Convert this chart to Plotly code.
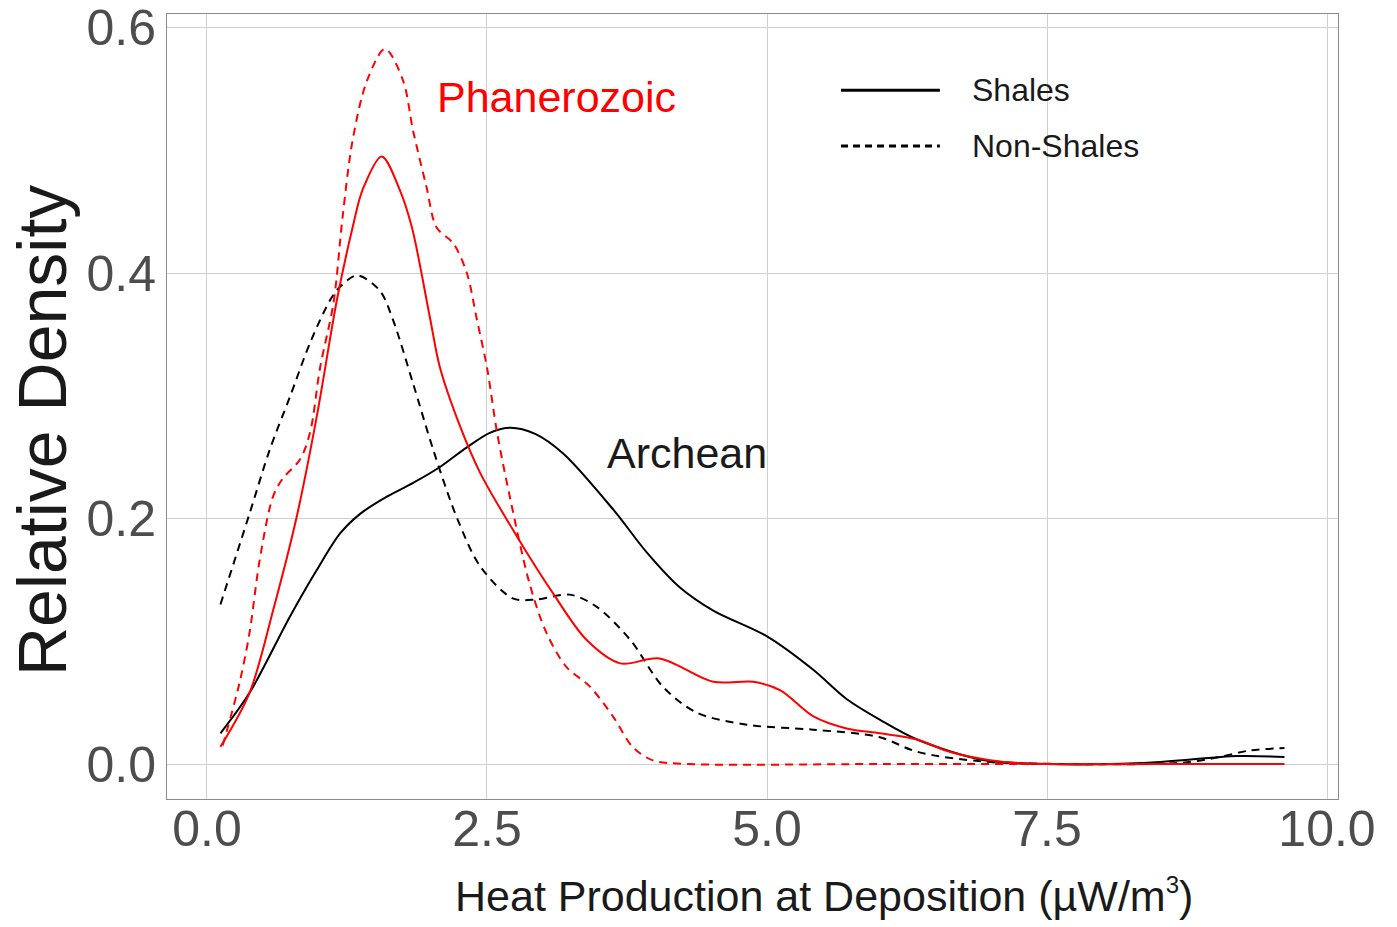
import plotly.graph_objects as go

# Archean shales (black solid)
arch_sh_x = [0.12, 0.38, 0.74, 0.98, 1.19, 1.37, 1.61, 1.84, 2.08, 2.32, 2.53, 2.71, 2.93, 3.18, 3.63, 3.93, 4.22, 4.52, 5.0, 5.41, 5.71, 6.01, 6.34, 6.93, 7.5, 8.4, 9.2, 9.62]
arch_sh_y = [0.025, 0.058, 0.120, 0.158, 0.188, 0.204, 0.218, 0.229, 0.242, 0.258, 0.270, 0.274, 0.269, 0.253, 0.207, 0.172, 0.144, 0.125, 0.104, 0.077, 0.053, 0.036, 0.020, 0.0033, 0.0, 0.001, 0.0065, 0.0057]

# Archean non-shales (black dashed)
arch_ns_x = [0.12, 0.38, 0.56, 0.74, 0.92, 1.10, 1.19, 1.34, 1.54, 1.66, 1.84, 2.02, 2.23, 2.44, 2.73, 2.94, 3.24, 3.48, 3.78, 4.07, 4.37, 4.82, 5.41, 6.0, 6.34, 6.93, 7.7, 8.7, 9.0, 9.31, 9.62]
arch_ns_y = [0.130, 0.204, 0.256, 0.299, 0.343, 0.378, 0.389, 0.398, 0.386, 0.362, 0.310, 0.256, 0.201, 0.161, 0.135, 0.134, 0.138, 0.128, 0.101, 0.063, 0.042, 0.032, 0.028, 0.022, 0.010, 0.002, 0.0, 0.001, 0.005, 0.011, 0.013]

# Phanerozoic shales (red solid)
phan_sh_x = [0.12, 0.38, 0.59, 0.80, 0.98, 1.16, 1.30, 1.39, 1.56, 1.72, 1.83, 1.99, 2.08, 2.26, 2.44, 2.77, 3.09, 3.39, 3.69, 4.04, 4.52, 4.88, 5.12, 5.41, 5.71, 6.01, 6.34, 6.63, 7.08, 7.5, 8.5, 9.62]
phan_sh_y = [0.014, 0.058, 0.125, 0.201, 0.283, 0.378, 0.437, 0.468, 0.495, 0.468, 0.437, 0.364, 0.323, 0.275, 0.237, 0.185, 0.139, 0.101, 0.082, 0.086, 0.067, 0.067, 0.060, 0.039, 0.029, 0.025, 0.020, 0.010, 0.002, 0.0, 0.0, 0.0]

# Phanerozoic non-shales (red dashed)
phan_ns_x = [0.14, 0.29, 0.38, 0.47, 0.59, 0.68, 0.83, 0.92, 1.01, 1.13, 1.21, 1.30, 1.43, 1.59, 1.75, 1.84, 1.96, 2.05, 2.20, 2.32, 2.41, 2.50, 2.59, 2.71, 2.88, 3.03, 3.21, 3.42, 3.63, 3.80, 3.98, 4.3, 6.0, 8.0, 9.62]
phan_ns_y = [0.015, 0.066, 0.107, 0.166, 0.218, 0.233, 0.248, 0.270, 0.323, 0.376, 0.445, 0.508, 0.557, 0.5825, 0.557, 0.516, 0.470, 0.437, 0.424, 0.400, 0.362, 0.323, 0.270, 0.215, 0.147, 0.107, 0.079, 0.063, 0.038, 0.014, 0.003, 0.0, 0.0, 0.0, 0.0]

x_ticks = [0.0, 2.5, 5.0, 7.5, 10.0]
x_tick_labels = ["0.0", "2.5", "5.0", "7.5", "10.0"]
y_ticks = [0.0, 0.2, 0.4, 0.6]
y_tick_labels = ["0.0", "0.2", "0.4", "0.6"]

FONT = "Liberation Sans, Arial, sans-serif"
DASH = "8px,6px"
SM = 0.9

fig = go.Figure()
fig.add_trace(go.Scatter(x=arch_sh_x, y=arch_sh_y, mode="lines", name="Archean Shales",
                         line=dict(color="black", width=2, shape="spline", smoothing=SM), showlegend=False))
fig.add_trace(go.Scatter(x=arch_ns_x, y=arch_ns_y, mode="lines", name="Archean Non-Shales",
                         line=dict(color="black", width=2, dash=DASH, shape="spline", smoothing=SM), showlegend=False))
fig.add_trace(go.Scatter(x=phan_sh_x, y=phan_sh_y, mode="lines", name="Phanerozoic Shales",
                         line=dict(color="#ff0000", width=2, shape="spline", smoothing=SM), showlegend=False))
fig.add_trace(go.Scatter(x=phan_ns_x, y=phan_ns_y, mode="lines", name="Phanerozoic Non-Shales",
                         line=dict(color="#ff0000", width=2, dash=DASH, shape="spline", smoothing=SM), showlegend=False))

# Manual legend (paper coordinates)
fig.add_shape(type="line", xref="paper", yref="paper", x0=0.5756, x1=0.660, y0=0.903, y1=0.903,
              line=dict(color="black", width=3))
fig.add_shape(type="line", xref="paper", yref="paper", x0=0.5756, x1=0.660, y0=0.832, y1=0.832,
              line=dict(color="black", width=3, dash="7px,5px"))
fig.add_annotation(xref="paper", yref="paper", x=0.686, y=0.903, text="Shales", showarrow=False,
                   xanchor="left", yanchor="middle", font=dict(family=FONT, size=32, color="#1a1a1a"))
fig.add_annotation(xref="paper", yref="paper", x=0.686, y=0.832, text="Non-Shales", showarrow=False,
                   xanchor="left", yanchor="middle", font=dict(family=FONT, size=32, color="#1a1a1a"))

fig.add_annotation(x=3.12, y=0.543, text="Phanerozoic", showarrow=False, xanchor="center", yanchor="middle",
                   font=dict(family=FONT, size=43, color="#ff0000"))
fig.add_annotation(x=4.29, y=0.253, text="Archean", showarrow=False, xanchor="center", yanchor="middle",
                   font=dict(family=FONT, size=43, color="#1a1a1a"))

# Axis titles as annotations (positioned to match reference)
fig.add_annotation(xref="paper", yref="paper", x=(824 - 167) / 1171, y=(799 - 895) / 785,
                   text="Heat Production at Deposition (µW/m<sup><span style='font-size:24px'>3</span></sup>)",
                   showarrow=False,
                   xanchor="center", yanchor="middle", font=dict(family=FONT, size=43, color="#1a1a1a"))
fig.add_annotation(xref="paper", yref="paper", x=(42 - 167) / 1171, y=(799 - 431) / 785,
                   text="Relative Density", showarrow=False, textangle=-90,
                   xanchor="center", yanchor="middle", font=dict(family=FONT, size=68, color="#1a1a1a"))

fig.update_layout(
    width=1397, height=927,
    margin=dict(l=167, r=59, t=14, b=128, autoexpand=False),
    plot_bgcolor="white", paper_bgcolor="white",
    font=dict(family=FONT),
)
fig.update_xaxes(range=[-0.357, 10.098], tickvals=x_ticks, ticktext=x_tick_labels,
                 tickfont=dict(size=50, color="#4d4d4d"), automargin=False, ticklabelstandoff=-14,
                 showgrid=True, gridcolor="#d0d0d0", gridwidth=1, zeroline=False,
                 showline=True, linecolor="#8c8c8c", linewidth=1, mirror=True, ticks="")
fig.update_yaxes(range=[-0.0285, 0.611], tickvals=y_ticks, ticktext=y_tick_labels,
                 tickfont=dict(size=50, color="#4d4d4d"), automargin=False,
                 showgrid=True, gridcolor="#d0d0d0", gridwidth=1, zeroline=False,
                 showline=True, linecolor="#8c8c8c", linewidth=1, mirror=True, ticks="")

fig.write_html("out.html")
